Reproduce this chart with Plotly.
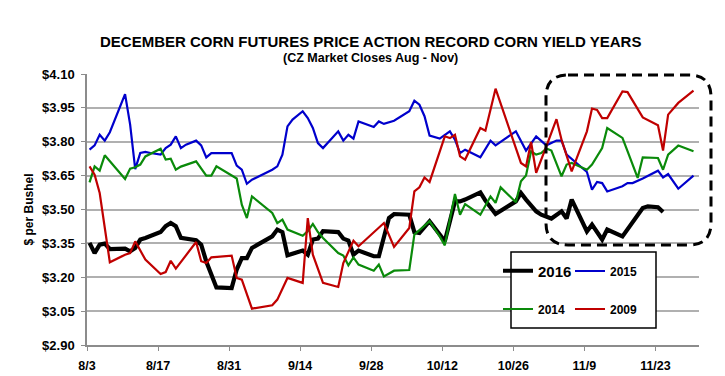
import plotly.graph_objects as go

YEAR = "2016"

# ---------------- data (month-day, $ per bushel) ----------------
dates_2016 = ["08-03","08-04","08-05","08-06","08-07","08-10","08-11","08-12","08-13","08-14",
              "08-17","08-18","08-19","08-20","08-21","08-24","08-25","08-26","08-28","08-31",
              "09-01","09-02","09-03","09-04","09-08","09-09","09-10","09-11","09-14","09-15",
              "09-16","09-17","09-18","09-21","09-22","09-23","09-24","09-25","09-28","09-29",
              "10-01","10-02","10-05","10-06","10-07","10-09","10-11","10-12","10-14","10-15",
              "10-16","10-19","10-20","10-22","10-26","10-27","10-28","10-30","10-31","11-01",
              "11-02","11-04","11-05","11-06","11-09","11-10","11-12","11-13","11-16","11-20",
              "11-21","11-23","11-24"]
price_2016 = [3.352,3.307,3.344,3.349,3.325,3.327,3.315,3.330,3.367,3.374,
              3.400,3.426,3.440,3.426,3.374,3.364,3.344,3.270,3.155,3.152,
              3.234,3.285,3.285,3.330,3.381,3.411,3.400,3.297,3.318,3.300,
              3.367,3.371,3.404,3.400,3.371,3.362,3.300,3.318,3.293,3.293,
              3.462,3.480,3.477,3.400,3.396,3.448,3.389,3.359,3.536,3.536,
              3.544,3.576,3.539,3.480,3.536,3.573,3.544,3.492,3.477,3.470,
              3.460,3.492,3.460,3.544,3.403,3.433,3.367,3.411,3.381,3.507,
              3.514,3.510,3.489]

dates_2015 = ["08-03","08-04","08-05","08-06","08-07","08-08","08-10","08-11","08-12","08-13",
              "08-14","08-15","08-17","08-18","08-19","08-20","08-21","08-22","08-24","08-25",
              "08-26","08-27","08-31","09-01","09-02","09-03","09-04","09-08","09-09","09-10",
              "09-11","09-12","09-14","09-15","09-16","09-17","09-18","09-21","09-22","09-23",
              "09-24","09-25","09-28","09-29","09-30","10-02","10-05","10-06","10-07","10-08",
              "10-09","10-11","10-13","10-14","10-15","10-16","10-19","10-21","10-22","10-26",
              "10-28","10-30","11-01","11-03","11-04","11-05","11-09","11-10","11-11","11-12",
              "11-13","11-16","11-17","11-18","11-20","11-23","11-24","11-25","11-27","11-30"]
price_2015 = [3.765,3.784,3.831,3.805,3.842,3.901,4.011,3.876,3.679,3.750,
              3.755,3.750,3.743,3.772,3.787,3.824,3.772,3.787,3.805,3.784,
              3.731,3.750,3.750,3.694,3.676,3.614,3.632,3.676,3.691,3.743,
              3.868,3.898,3.935,3.905,3.861,3.794,3.772,3.846,3.805,3.831,
              3.814,3.890,3.865,3.890,3.879,3.893,3.935,3.982,3.964,3.913,
              3.827,3.814,3.846,3.809,3.750,3.765,3.731,3.805,3.784,3.846,
              3.761,3.824,3.784,3.805,3.805,3.743,3.666,3.588,3.622,3.617,
              3.580,3.603,3.617,3.617,3.637,3.672,3.642,3.657,3.592,3.650]

dates_2014 = ["08-03","08-04","08-05","08-06","08-10","08-11","08-12","08-13","08-14","08-15",
              "08-17","08-18","08-19","08-20","08-21","08-24","08-26","08-27","08-28","09-01",
              "09-02","09-03","09-04","09-08","09-09","09-10","09-11","09-14","09-15","09-16",
              "09-17","09-18","09-19","09-21","09-22","09-23","09-24","09-25","09-28","09-29",
              "09-30","10-02","10-05","10-06","10-09","10-11","10-12","10-14","10-15","10-16",
              "10-19","10-21","10-22","10-23","10-26","10-27","10-28","10-29","10-30","10-31",
              "11-01","11-02","11-04","11-05","11-06","11-09","11-10","11-12","11-13","11-16",
              "11-17","11-19","11-20","11-23","11-24","11-25","11-27","11-30"]
price_2014 = [3.620,3.691,3.672,3.740,3.635,3.681,3.687,3.699,3.735,3.746,
              3.769,3.721,3.725,3.676,3.690,3.713,3.650,3.650,3.691,3.637,
              3.521,3.462,3.558,3.485,3.440,3.455,3.411,3.384,3.404,3.436,
              3.400,3.374,3.352,3.307,3.296,3.253,3.288,3.256,3.229,3.256,
              3.204,3.229,3.232,3.389,3.448,3.381,3.341,3.569,3.477,3.524,
              3.477,3.558,3.529,3.598,3.532,3.625,3.651,3.758,3.743,3.750,
              3.770,3.761,3.647,3.699,3.706,3.676,3.699,3.772,3.861,3.817,
              3.758,3.640,3.731,3.728,3.676,3.743,3.783,3.758]

dates_2009 = ["08-03","08-04","08-05","08-07","08-10","08-11","08-12","08-14","08-17","08-18",
              "08-19","08-20","08-24","08-25","08-26","08-27","08-31","09-01","09-02","09-04",
              "09-08","09-09","09-11","09-14","09-15","09-16","09-18","09-21","09-22","09-24",
              "09-25","09-30","10-02","10-05","10-06","10-07","10-08","10-09","10-12","10-13",
              "10-14","10-15","10-16","10-19","10-20","10-22","10-27","10-28","10-29","10-30",
              "11-01","11-03","11-04","11-06","11-09","11-10","11-11","11-12","11-13","11-16",
              "11-17","11-20","11-23","11-24","11-25","11-27","11-30"]
price_2009 = [3.691,3.654,3.573,3.266,3.300,3.307,3.359,3.278,3.214,3.223,
              3.273,3.238,3.356,3.271,3.263,3.288,3.296,3.197,3.189,3.061,
              3.076,3.101,3.197,3.175,3.462,3.300,3.175,3.157,3.263,3.362,
              3.337,3.440,3.334,3.418,3.580,3.598,3.642,3.622,3.824,3.816,
              3.831,3.735,3.721,3.861,3.849,4.035,3.706,3.691,3.799,3.662,
              3.780,3.900,3.809,3.669,3.846,3.947,3.941,3.905,3.905,4.023,
              4.020,3.908,3.873,3.761,3.920,3.972,4.026]

series_names = ["2016", "2015", "2014", "2009"]
series_dates = [dates_2016, dates_2015, dates_2014, dates_2009]
series_prices = [price_2016, price_2015, price_2014, price_2009]

title_text = "DECEMBER CORN FUTURES PRICE ACTION RECORD CORN YIELD YEARS"
subtitle_text = "(CZ Market Closes Aug - Nov)"
y_title = "$ per Bushel"

# ---------------- styling ----------------
W, H = 725, 376
ML, MR, MT, MB = 79, 34, 66, 39
PW, PH = W - ML - MR, H - MT - MB
FONT = "Liberation Sans"

def px(x):  # pixel -> paper x
    return (x - ML) / PW

def py(y):  # pixel -> paper y
    return (H - MB - y) / PH

colors = ["#000000", "#0000cc", "#0a8a0a", "#c00000"]
widths = [4.2, 2.2, 2.2, 2.2]
legend_ids = ["legend", "legend2", "legend3", "legend4"]

fig = go.Figure()
for name, d, p, c, w, lg in zip(series_names, series_dates, series_prices, colors, widths, legend_ids):
    fig.add_trace(go.Scatter(
        x=[f"{YEAR}-{s}" for s in d], y=p, name=name, mode="lines",
        line=dict(color=c, width=w), legend=lg, showlegend=True,
        xperiod=86400000, xperiodalignment="middle",
    ))

leg_common = dict(bgcolor="rgba(0,0,0,0)", borderwidth=0, xanchor="left", yanchor="middle",
                  orientation="h", itemwidth=30, visible=True)
fig.update_layout(
    showlegend=True,
    legend=dict(x=px(490), y=py(263), font=dict(family=FONT, size=15, color="black", weight="bold"), **leg_common),
    legend2=dict(x=px(562), y=py(263), font=dict(family=FONT, size=12, color="black", weight="bold"), **leg_common),
    legend3=dict(x=px(490), y=py(301), font=dict(family=FONT, size=12, color="black", weight="bold"), **leg_common),
    legend4=dict(x=px(562), y=py(301), font=dict(family=FONT, size=12, color="black", weight="bold"), **leg_common),
)

# dashed rounded highlight box
L, R, T, B, r = 538, 703, 67, 237, 22
def P(x, y):
    return f"{px(x):.5f},{py(y):.5f}"
path = (f"M{P(L+r,T)} L{P(R-r,T)} Q{P(R,T)} {P(R,T+r)} L{P(R,B-r)} Q{P(R,B)} {P(R-r,B)} "
        f"L{P(L+r,B)} Q{P(L,B)} {P(L,B-r)} L{P(L,T+r)} Q{P(L,T)} {P(L+r,T)} Z")

shapes = [
    dict(type="rect", xref="paper", yref="paper", x0=px(503), x1=px(648), y0=py(320), y1=py(244),
         fillcolor="white", line=dict(color="black", width=1.5), layer="above"),
    dict(type="path", xref="paper", yref="paper", path=path,
         line=dict(color="black", width=3, dash="10px,6px"), layer="above"),
]

fig.update_layout(
    width=W, height=H,
    margin=dict(l=ML, r=MR, t=MT, b=MB),
    paper_bgcolor="white", plot_bgcolor="white",
    font=dict(family=FONT, color="black"),
    shapes=shapes,
    annotations=[
        dict(text=f"<b>{title_text}</b>", x=px(362.5), y=py(33), xref="paper", yref="paper",
             showarrow=False, xanchor="center", yanchor="middle", font=dict(size=15, family=FONT)),
        dict(text=f"<b>{subtitle_text}</b>", x=px(362.5), y=py(50), xref="paper", yref="paper",
             showarrow=False, xanchor="center", yanchor="middle", font=dict(size=12.5, family=FONT)),
    ],
    xaxis=dict(
        type="date",
        range=[f"{YEAR}-08-03", f"{YEAR}-12-01 14:00"],
        tick0=f"{YEAR}-08-03", dtick=14 * 86400000, tickformat="%-m/%-d",
        showgrid=False, zeroline=False,
        showline=True, linecolor="#8c8c8c", linewidth=1.5,
        ticks="outside", ticklen=4, tickcolor="#8c8c8c", tickwidth=1.2,
        ticklabelstandoff=4,
        tickfont=dict(family=FONT, size=12.5, color="black", weight="bold"),
    ),
    yaxis=dict(
        range=[2.90, 4.10], dtick=0.15, tick0=2.90, tickformat=".2f", tickprefix="$",
        showgrid=True, gridcolor="#b0b0b0", gridwidth=1.5, zeroline=False,
        showline=True, linecolor="#8c8c8c", linewidth=1.5,
        ticks="outside", ticklen=4, tickcolor="#8c8c8c", tickwidth=1.2,
        ticklabelstandoff=4,
        tickfont=dict(family=FONT, size=13, color="black", weight="bold"),
        title=dict(text=y_title, standoff=6, font=dict(family=FONT, size=12, color="black", weight="bold")),
    ),
)

fig.write_html("out.html")
